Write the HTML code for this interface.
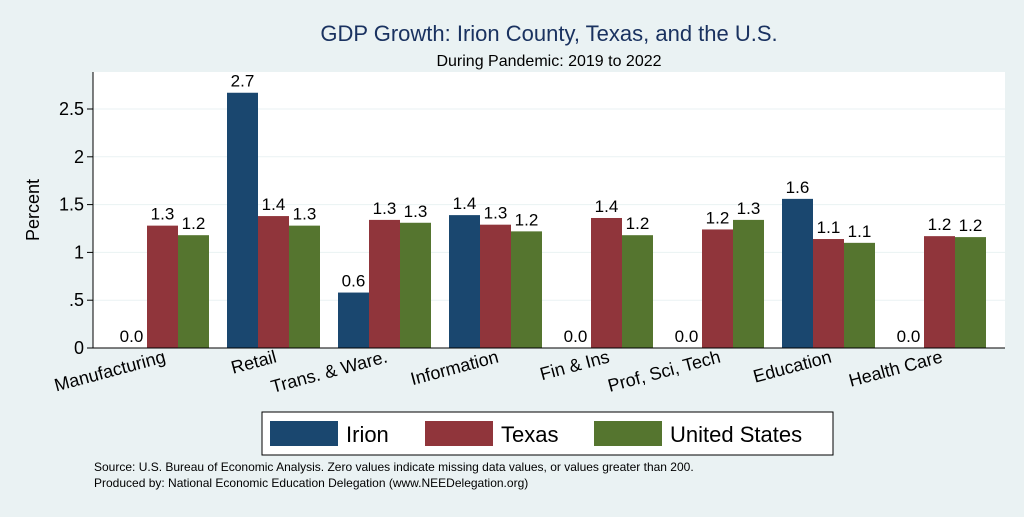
<!DOCTYPE html>
<html><head><meta charset="utf-8"><style>
body{margin:0;width:1024px;height:512px;background:#eaf2f3;font-family:"Liberation Sans",Arial,sans-serif;overflow:hidden}
</style></head><body>
<svg id="chart" width="1024" height="512" xmlns="http://www.w3.org/2000/svg">
<rect x="0" y="0" width="1024" height="512" fill="#eaf2f3"/>
<rect x="93" y="72" width="912" height="276" fill="#ffffff"/>
<text x="549" y="41" font-size="22" fill="#1a3260" text-anchor="middle">GDP Growth: Irion County, Texas, and the U.S.</text>
<text x="549" y="66" font-size="16" fill="#000" text-anchor="middle">During Pandemic: 2019 to 2022</text>
<text transform="translate(39,210) rotate(-90)" font-size="18" text-anchor="middle">Percent</text>
<g id="grid"></g><g id="bars"></g><g id="xlabels"></g>
<line x1="93" y1="72" x2="93" y2="348" stroke="#000"/>
<line x1="93" y1="348" x2="1005" y2="348" stroke="#000"/>
<g>
<rect x="262" y="412" width="571" height="43" fill="#fff" stroke="#000"/>
<g><rect x="270" y="421" width="68" height="25" fill="#1a476f"/><text x="346" y="442" font-size="22">Irion</text></g>
<g><rect x="425" y="421" width="68" height="25" fill="#90353b"/><text x="501" y="442" font-size="22">Texas</text></g>
<g><rect x="594" y="421" width="68" height="25" fill="#55752f"/><text x="670" y="442" font-size="22">United States</text></g>
</g>
<text x="94" y="471" font-size="12">Source: U.S. Bureau of Economic Analysis. Zero values indicate missing data values, or values greater than 200.</text>
<text x="94" y="487" font-size="12">Produced by: National Economic Education Delegation (www.NEEDelegation.org)</text>
</svg>
<script>
const categories=["Manufacturing","Retail","Trans. & Ware.","Information","Fin & Ins","Prof, Sci, Tech","Education","Health Care"];
const irion=[0,2.67,0.58,1.39,0,0,1.56,0];
const texas=[1.28,1.38,1.34,1.29,1.36,1.24,1.14,1.17];
const us=[1.18,1.28,1.31,1.22,1.18,1.34,1.10,1.16];
const yTicks=[0,0.5,1,1.5,2,2.5];
const yTickLabels=["0",".5","1","1.5","2","2.5"];
const NS="http://www.w3.org/2000/svg";
const y=v=>348-v*95.6;
const gx=i=>116+i*111;
const bw=31;
function mk(t,a,p){const e=document.createElementNS(NS,t);for(const k in a)e.setAttribute(k,a[k]);p.appendChild(e);return e;}
const grid=document.getElementById('grid'),bars=document.getElementById('bars'),xl=document.getElementById('xlabels');
yTicks.forEach((v,i)=>{
 if(v>0){const l=mk('line',{x1:93,x2:1005,y1:y(v),y2:y(v),stroke:'#eaf2f3','stroke-width':1},grid);
 
 }
 const tk=mk('line',{x1:87,x2:93,y1:y(v),y2:y(v),stroke:'#000'},grid);
 
 
 const t=mk('text',{x:84,y:y(v)+6,'font-size':18,'text-anchor':'end'},grid);t.textContent=yTickLabels[i];
 
 
});
const series=[[irion,'#1a476f','irion'],[texas,'#90353b','texas'],[us,'#55752f','us']];
categories.forEach((c,i)=>{
 series.forEach(([arr,col,nm],s)=>{
  const v=arr[i],x=gx(i)+s*bw;
  const r=mk('rect',{x:x,y:y(v),width:bw,height:348-y(v),fill:col},bars);
  
  
  const t=mk('text',{x:x+bw/2,y:y(v)-6,'font-size':17,'text-anchor':'middle'},bars);t.textContent=v.toFixed(1);
  
  
 });
 const cx=gx(i)+bw*1.5+4;
 const t=mk('text',{transform:`translate(${cx},362) rotate(-15)`,'font-size':18,'text-anchor':'end'},xl);t.textContent=c;
 
 
});
</script>
</body></html>
